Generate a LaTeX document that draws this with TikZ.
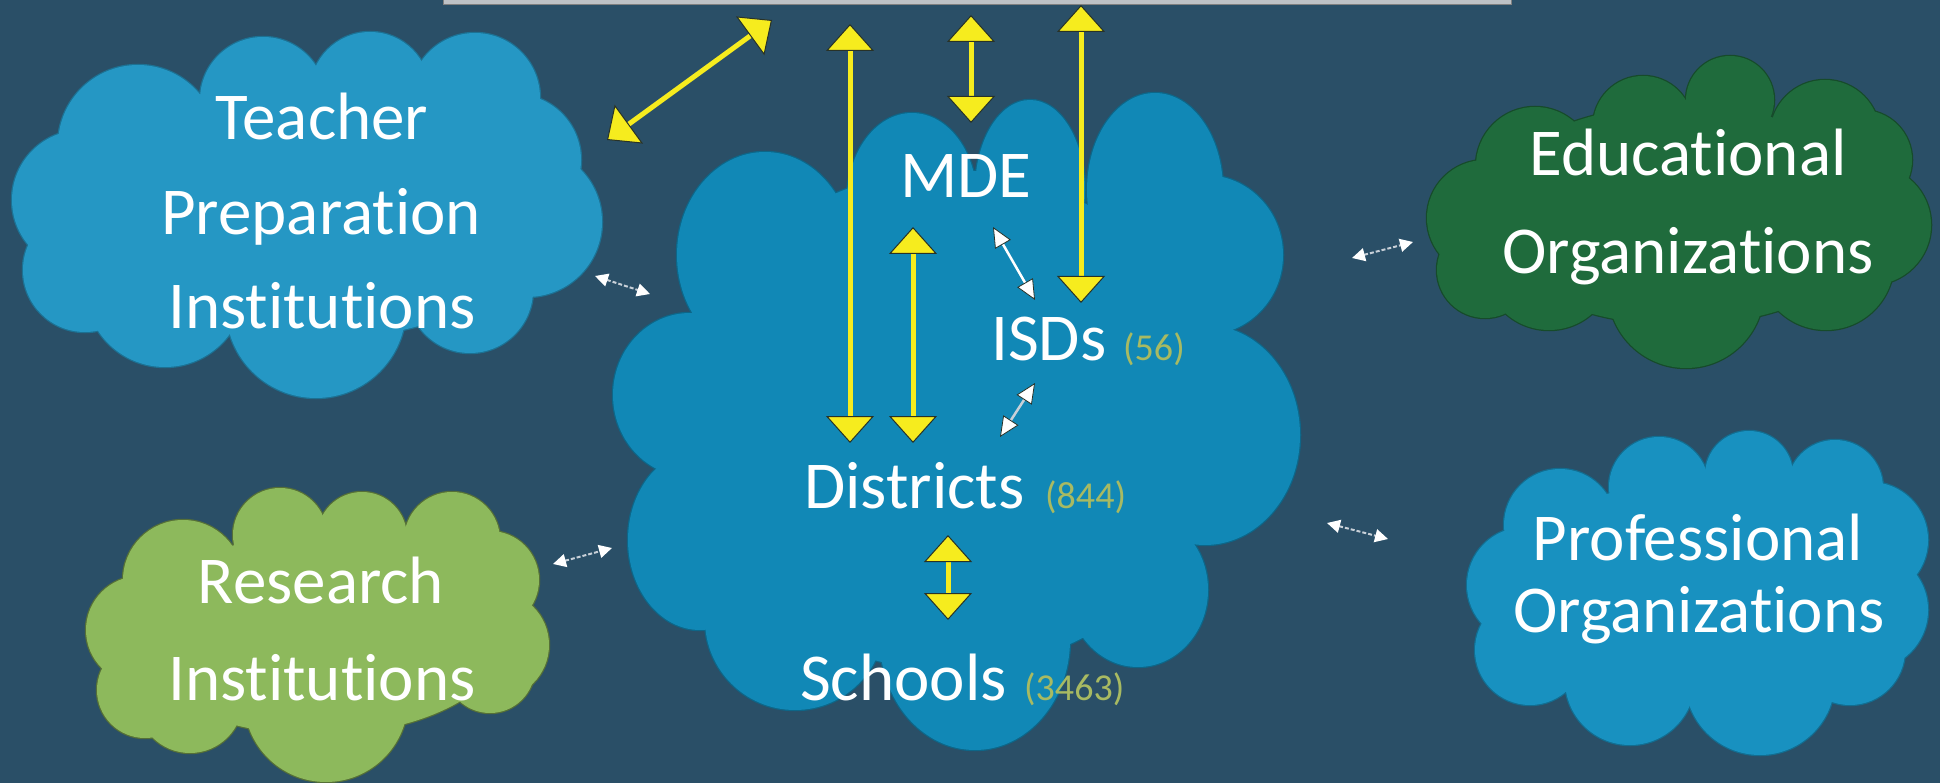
\documentclass[tikz,border=0pt]{standalone}
\usepackage{fontspec}
\setmainfont[Ligatures={NoCommon},Contextuals={NoAlternate}]{Carlito}
\usetikzlibrary{arrows.meta}
\definecolor{bgcol}{RGB}{42,79,103}
\definecolor{teachblue}{RGB}{37,151,196}
\definecolor{centblue}{RGB}{17,136,182}
\definecolor{profblue}{RGB}{24,145,192}
\definecolor{resgreen}{RGB}{141,185,92}
\definecolor{edugreen}{RGB}{31,107,60}
\definecolor{ayellow}{RGB}{246,236,30}
\definecolor{adark}{RGB}{40,50,40}
\definecolor{numcol}{RGB}{168,186,98}
\definecolor{lgray}{RGB}{200,208,216}
\definecolor{bargray}{RGB}{190,194,198}
\newcommand{\cloudfill}[3]{%
  \foreach \cx/\cy/\rx/\ry in {#3} \draw[draw=#2, line width=2.5pt] (\cx,\cy) ellipse [x radius=\rx pt, y radius=\ry pt];
  \foreach \cx/\cy/\rx/\ry in {#3} \fill[#1] (\cx,\cy) ellipse [x radius=\rx pt, y radius=\ry pt];
}
\begin{document}
\begin{tikzpicture}[x=1pt,y=-1pt,
  lbl/.style={text=white, font=\fontsize{67}{80}\selectfont, inner sep=0pt, anchor=base},
  numlbl/.style={text=numcol, font=\fontsize{38}{44}\selectfont, inner sep=0pt, anchor=base west},
  yarrow/.style={draw=ayellow, line width=5pt,
    arrows={Triangle[width=48pt,length=27pt,fill=ayellow,color=adark,line width=1pt]-Triangle[width=48pt,length=27pt,fill=ayellow,color=adark,line width=1pt]}},
  warrow/.style={draw=white, line width=2.5pt,
    arrows={Triangle[width=18pt,length=20pt,fill=white,color=adark,line width=0.8pt]-Triangle[width=18pt,length=20pt,fill=white,color=adark,line width=0.8pt]}},
  sarrow/.style={draw=lgray, line width=2pt, dash pattern=on 4pt off 2pt,
    arrows={Triangle[width=13pt,length=13pt,fill=white,color=white]-Triangle[width=13pt,length=13pt,fill=white,color=white]}},
]
\fill[bgcol] (0,0) rectangle (1940,783);
\useasboundingbox (0,0) rectangle (1940,783);

% top bar
\node[fill=bargray, draw=gray, line width=1pt, minimum width=1068pt, minimum height=10pt, inner sep=0pt] (topbar) at (977,0) {};

% Teacher cloud
\cloudfill{teachblue}{teachblue!75!black}{138/145/80/80, 263/100/63/63, 370/92/60/60, 475/98/65/65, 515/160/66/66, 527/222/75/75, 470/290/63/63, 316/308/90/90, 165/287/80/80, 85/270/62/62, 82/200/70/70, 310/210/240/130}
% Research cloud
\cloudfill{resgreen}{resgreen!60!black}{183/580/60/60, 280/535/47/47, 362/537/45/45, 452/540/48/48, 490/580/49/49, 495/645/54/54, 490/668/45/45, 326/700/82/82, 190/700/53/53, 140/630/54/54, 145/690/48/48, 318/635/190/100}
% Educational cloud
\cloudfill{edugreen}{edugreen!70!black}{1535/166/59/59, 1643/126/50/50, 1730/100/44/44, 1825/135/55/55, 1862/160/50/50, 1871/225/60/60, 1826/262/68/68, 1686/290/78/78, 1549/265/65/65, 1485/270/48/48, 1485/218/58/58, 1680/215/200/110}
% Professional cloud
\cloudfill{profblue}{profblue!75!black}{1560/525/56/56, 1659/487/50/50, 1749/475/44/44, 1835/488/48/48, 1870/540/58/58, 1868/610/60/60, 1850/650/55/55, 1760/680/75/75, 1630/680/65/65, 1530/650/55/55, 1525/585/58/58, 1700/590/190/110}
% Central cloud
\cloudfill{centblue}{centblue!75!black}{765/255/88/103, 912/200/65/87, 1030/190/55/90, 1155/190/68/97, 1205/255/78/80, 1205/435/95/110, 1138/590/70/77, 975/640/95/110, 795/620/90/90, 700/540/72/90, 690/395/77/82, 950/420/270/250}

% labels
\node[lbl] (tp1) at (322,140) {Teacher};
\node[lbl] (tp2) at (321,235) {Preparation};
\node[lbl] (tp3) at (322,329) {Institutions};
\node[lbl] (ri1) at (321,603) {Research};
\node[lbl] (ri2) at (322,700) {Institutions};
\node[lbl] (eo1) at (1688,176) {Educational};
\node[lbl] (eo2) at (1688,274) {Organizations};
\node[lbl] (po1) at (1698,560) {Professional};
\node[lbl] (po2) at (1699,632) {Organizations};
\node[lbl] (mde) at (966,198) {MDE};
\node[lbl, anchor=base west] (isd) at (991,360) {ISDs};
\node[numlbl] (isdn) at (1123,360) {(56)};
\node[lbl, anchor=base west] (dist) at (804,508) {Districts};
\node[numlbl] (distn) at (1045,508) {(844)};
\node[lbl, anchor=base west] (sch) at (800,700) {Schools};
\node[numlbl] (schn) at (1024,700) {(3463)};

% arrow end points
\coordinate (ya1) at (607,140); \coordinate (yb1) at (772,20);
\coordinate (ya2) at (850,443); \coordinate (yb2) at (850,24);
\coordinate (ya3) at (971,123); \coordinate (yb3) at (971,15);
\coordinate (ya4) at (1081,303); \coordinate (yb4) at (1081,5);
\coordinate (ya5) at (913,443); \coordinate (yb5) at (913,227);
\coordinate (ya6) at (948,620); \coordinate (yb6) at (948,535);
\coordinate (wa1) at (993,227); \coordinate (wb1) at (1035,300);
\coordinate (wa2) at (1035,383); \coordinate (wb2) at (1000,437);
\coordinate (sa1) at (595,276); \coordinate (sb1) at (650,294);
\coordinate (sa2) at (553,564); \coordinate (sb2) at (612,548);
\coordinate (sa3) at (1352,258); \coordinate (sb3) at (1413,242);
\coordinate (sa4) at (1327,523); \coordinate (sb4) at (1388,539);

\draw[yarrow] (ya1) -- (yb1);
\draw[yarrow] (ya2) -- (yb2);
\draw[yarrow] (ya3) -- (yb3);
\draw[yarrow] (ya4) -- (yb4);
\draw[yarrow] (ya5) -- (yb5);
\draw[yarrow] (ya6) -- (yb6);
\draw[warrow] (wa1) -- (wb1);
\draw[warrow, draw=lgray] (wa2) -- (wb2);
\draw[sarrow] (sa1) -- (sb1);
\draw[sarrow] (sa2) -- (sb2);
\draw[sarrow] (sa3) -- (sb3);
\draw[sarrow] (sa4) -- (sb4);
\end{tikzpicture}
\end{document}
